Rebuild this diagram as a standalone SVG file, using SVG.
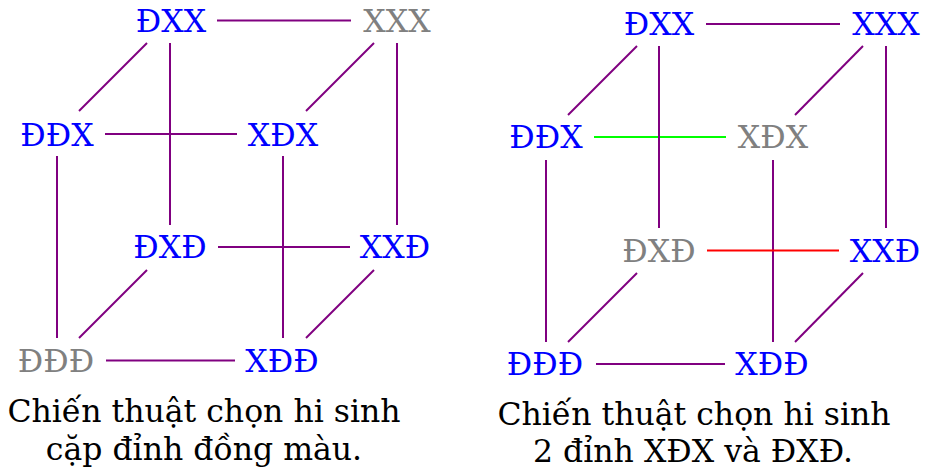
<svg xmlns="http://www.w3.org/2000/svg" width="925" height="470" viewBox="0 0 925 470">
<style>
text{font-family:"DejaVu Serif","Liberation Serif",serif;font-size:31.5px;text-anchor:middle}
.b{fill:#0000ff}.g{fill:#808080}.k{fill:#000}
line{stroke:#800080;stroke-width:2}
.gr{stroke:#00ff00}.rd{stroke:#ff0000}
</style>
<rect width="925" height="470" fill="#fff"/>
<g id="connectors">
<line x1="217" y1="20.5" x2="351" y2="20.5"/>
<line x1="105" y1="134" x2="237" y2="134"/>
<line x1="147" y1="43" x2="79" y2="111"/>
<line x1="170" y1="43" x2="170" y2="225"/>
<line x1="374" y1="43" x2="306" y2="111"/>
<line x1="397" y1="43" x2="397" y2="225"/>
<line x1="57" y1="156" x2="57" y2="338"/>
<line x1="283" y1="156" x2="283" y2="338"/>
<line x1="218" y1="247" x2="350" y2="247"/>
<line x1="147" y1="270" x2="79" y2="338"/>
<line x1="374" y1="270" x2="306" y2="338"/>
<line x1="106" y1="360.5" x2="235" y2="360.5"/>

<line x1="706" y1="24" x2="840" y2="24"/>
<line class="gr" x1="594" y1="137" x2="726" y2="137"/>
<line x1="637" y1="46" x2="568" y2="115"/>
<line x1="659" y1="46" x2="659" y2="228"/>
<line x1="863" y1="46" x2="795" y2="115"/>
<line x1="886" y1="46" x2="886" y2="228"/>
<line x1="546" y1="160" x2="546" y2="342"/>
<line x1="773" y1="160" x2="773" y2="342"/>
<line class="rd" x1="707" y1="250.5" x2="839" y2="250.5"/>
<line x1="637" y1="273" x2="568" y2="342"/>
<line x1="863" y1="273" x2="795" y2="342"/>
<line x1="596" y1="364" x2="725" y2="364"/>
</g>
<g id="n1_DXX"><text class="b" x="171" y="32">ĐXX</text></g>
<g id="n1_XXX"><text class="g" x="397" y="32">XXX</text></g>
<g id="n1_DDX"><text class="b" x="57" y="146">ĐĐX</text></g>
<g id="n1_XDX"><text class="b" x="283" y="146">XĐX</text></g>
<g id="n1_DXD"><text class="b" x="170" y="258">ĐXĐ</text></g>
<g id="n1_XXD"><text class="b" x="395" y="258">XXĐ</text></g>
<g id="n1_DDD"><text class="g" x="56" y="372">ĐĐĐ</text></g>
<g id="n1_XDD"><text class="b" x="282" y="372">XĐĐ</text></g>
<g id="caption1"><text class="k" x="204" y="422">Chiến thuật chọn hi sinh</text><text class="k" x="204" y="460">cặp đỉnh đồng màu.</text></g>

<g id="n2_DXX"><text class="b" x="659" y="35">ĐXX</text></g>
<g id="n2_XXX"><text class="b" x="886" y="35">XXX</text></g>
<g id="n2_DDX"><text class="b" x="546" y="148">ĐĐX</text></g>
<g id="n2_XDX"><text class="g" x="773" y="148">XĐX</text></g>
<g id="n2_DXD"><text class="g" x="659" y="262">ĐXĐ</text></g>
<g id="n2_XXD"><text class="b" x="885" y="262">XXĐ</text></g>
<g id="n2_DDD"><text class="b" x="545" y="375">ĐĐĐ</text></g>
<g id="n2_XDD"><text class="b" x="772" y="375">XĐĐ</text></g>
<g id="caption2"><text class="k" x="694" y="425">Chiến thuật chọn hi sinh</text><text class="k" x="693" y="462">2 đỉnh XĐX và ĐXĐ.</text></g>
</svg>
